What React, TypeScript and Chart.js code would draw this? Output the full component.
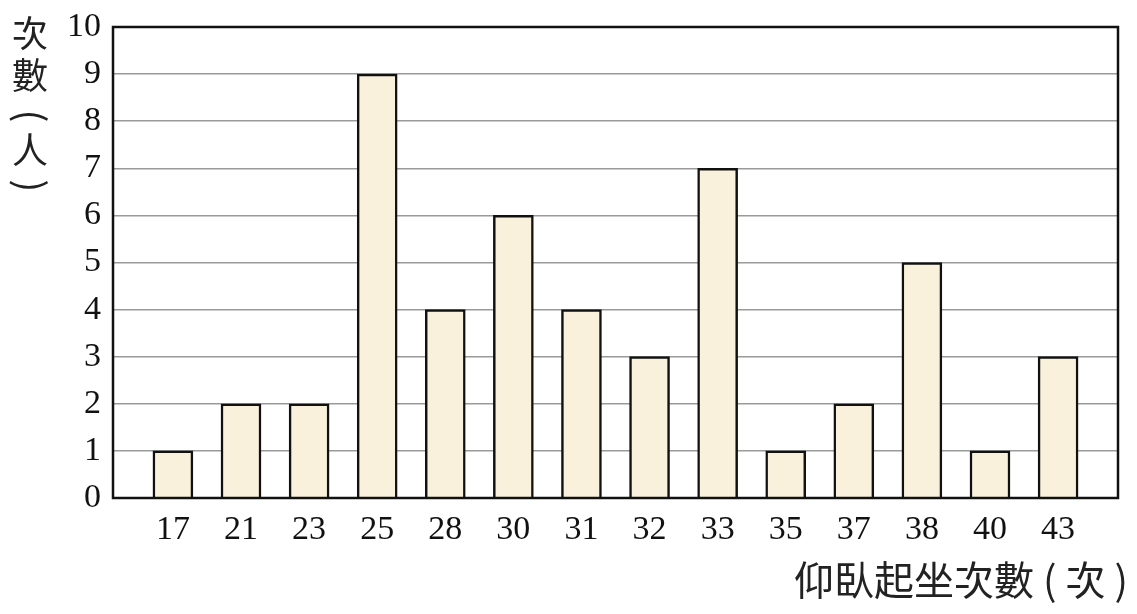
import React, { useEffect, useRef } from "react";
import { Chart, registerables } from "chart.js";

Chart.register(...registerables);

const categories = ["17", "21", "23", "25", "28", "30", "31", "32", "33", "35", "37", "38", "40", "43"];
const counts = [1, 2, 2, 9, 4, 6, 4, 3, 7, 1, 2, 5, 1, 3];
const yTitleChars = ["次", "數", "(", "人", ")"];
const xTitle = "仰臥起坐次數 ( 次 )";

const SERIF = "'Liberation Serif', 'DejaVu Serif', serif";
const CJK = "'Noto Sans CJK TC', 'Noto Sans CJK SC', sans-serif";

const framePlugin = {
  id: "frame",
  afterDatasetsDraw(chart: any) {
    const { ctx, chartArea } = chart;
    ctx.save();
    ctx.strokeStyle = "#111";
    ctx.lineWidth = 2.5;
    ctx.strokeRect(chartArea.left, chartArea.top, chartArea.right - chartArea.left, chartArea.bottom - chartArea.top);
    ctx.restore();
  },
  afterDraw(chart: any) {
    const { ctx } = chart;
    ctx.save();
    ctx.fillStyle = "#222";
    ctx.font = `36px ${CJK}`;
    ctx.textAlign = "center";
    ctx.textBaseline = "middle";
    const ys = [33, 75, 116, 150, 186];
    yTitleChars.forEach((c, i) => {
      if (c === "(" || c === ")") {
        ctx.save();
        ctx.translate(31, ys[i]);
        ctx.rotate(Math.PI / 2);
        ctx.font = `38px ${CJK}`;
        ctx.fillText(c, 0, 0);
        ctx.restore();
      } else {
        ctx.fillText(c, 30, ys[i]);
      }
    });
    ctx.font = `40px ${CJK}`;
    ctx.textAlign = "right";
    ctx.fillText(xTitle, 1128, 580);
    ctx.restore();
  },
};

export default function App() {
  const ref = useRef<HTMLCanvasElement | null>(null);
  useEffect(() => {
    if (!ref.current) return;
    const chart = new Chart(ref.current, {
      type: "bar",
      data: {
        datasets: [
          {
            data: counts.map((v, i) => ({ x: i, y: v })),
            backgroundColor: "#F9F1DB",
            borderColor: "#111",
            borderWidth: 2.5,
            barThickness: 40,
          },
        ],
      },
      options: {
        animation: false,
        responsive: false,
        maintainAspectRatio: false,
        layout: { padding: { top: 27, right: 19, left: 0, bottom: 0 } },
        plugins: { legend: { display: false }, tooltip: { enabled: false } },
        scales: {
          x: {
            type: "linear",
            offset: false,
            min: -0.88,
            max: 13.88,
            afterBuildTicks: (axis: any) => {
              axis.ticks = categories.map((_, i) => ({ value: i }));
            },
            afterFit: (scale: any) => {
              scale.height = 116;
            },
            grid: { display: false, drawTicks: false },
            border: { display: false },
            ticks: {
              autoSkip: false,
              maxRotation: 0,
              padding: 12,
              color: "#111",
              font: { family: SERIF, size: 34 },
              callback: (v: any) => categories[v] ?? "",
            },
          },
          y: {
            min: 0,
            max: 10,
            afterFit: (scale: any) => {
              scale.width = 113;
            },
            grid: {
              drawTicks: false,
              color: "#9a9a9a",
              lineWidth: 1.5,
            },
            border: { display: false },
            ticks: {
              stepSize: 1,
              padding: 12,
              color: "#111",
              font: { family: SERIF, size: 34, lineHeight: 0.8 },
            },
          },
        },
      },
      plugins: [framePlugin],
    });
    return () => chart.destroy();
  }, []);
  return (
    <div style={{ position: "fixed", left: 0, top: 0, width: 1137, height: 614, background: "#fff" }}>
      <canvas ref={ref} width={1137} height={614} style={{ width: 1137, height: 614 }} />
    </div>
  );
}
